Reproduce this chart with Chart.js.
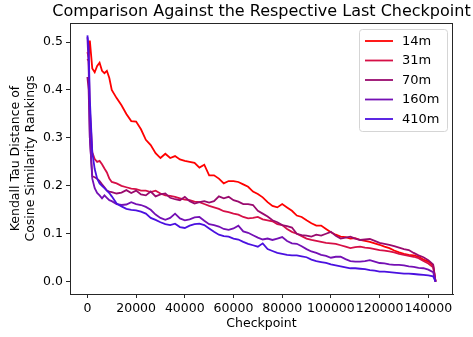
<!DOCTYPE html>
<html>
<head>
<meta charset="utf-8">
<script src="https://cdn.jsdelivr.net/npm/chart.js@4.4.1/dist/chart.umd.min.js"></script>
<style>
  html, body { margin: 0; padding: 0; background: #fff; }
  #chart { display: block; }
</style>
</head>
<body>
<canvas id="chart" width="473" height="337"></canvas>
<script>
// Kendall tau distance vs checkpoint, one line per model size

const checkpoints = [0, 500, 1000, 2000, 3000, 4000, 5000, 6000, 7000, 8000, 9000, 10000,
    12000, 14000, 16000, 18000, 20000, 22000, 24000, 26000, 28000, 30000,
    32000, 34000, 36000, 38000, 40000, 42000, 44000, 46000, 48000, 50000,
    52000, 54000, 56000, 58000, 60000, 62000, 64000, 66000, 68000, 70000,
    72000, 74000, 76000, 78000, 80000, 82000, 84000, 86000, 88000, 90000,
    92000, 94000, 96000, 98000, 100000, 102000, 104000, 106000, 108000, 110000,
    112000, 114000, 116000, 118000, 120000, 122000, 124000, 126000, 128000, 130000,
    132000, 134000, 136000, 138000, 140000, 142000, 143000];

const models = ['14m', '31m', '70m', '160m', '410m'];
const colors = ['#ff0000', '#d60f46', '#990a6e', '#7410b4', '#4a10e0'];

const dist14m = [0.479, 0.468, 0.503, 0.445, 0.437, 0.45, 0.457, 0.44, 0.435, 0.44, 0.425, 0.40,
    0.383, 0.368, 0.35, 0.335, 0.334, 0.318, 0.296, 0.285, 0.268, 0.258,
    0.267, 0.258, 0.262, 0.255, 0.252, 0.25, 0.248, 0.238, 0.244, 0.222,
    0.222, 0.215, 0.205, 0.21, 0.21, 0.208, 0.203, 0.198, 0.188, 0.183,
    0.176, 0.166, 0.158, 0.155, 0.162, 0.155, 0.148, 0.138, 0.135, 0.128,
    0.122, 0.117, 0.117, 0.11, 0.103, 0.098, 0.094, 0.093, 0.09, 0.091,
    0.087, 0.085, 0.083, 0.08, 0.077, 0.073, 0.07, 0.065, 0.061, 0.058,
    0.056, 0.055, 0.052, 0.046, 0.042, 0.034, 0.0];

const dist31m = [0.465, 0.46, 0.36, 0.27, 0.256, 0.25, 0.252, 0.245, 0.236, 0.228, 0.215, 0.208,
    0.205, 0.2, 0.197, 0.194, 0.193, 0.19, 0.19, 0.187, 0.19, 0.184,
    0.18, 0.179, 0.177, 0.174, 0.171, 0.17, 0.167, 0.166, 0.162, 0.158,
    0.155, 0.152, 0.147, 0.145, 0.142, 0.14, 0.135, 0.132, 0.133, 0.135,
    0.13, 0.128, 0.126, 0.12, 0.118, 0.11, 0.104, 0.1, 0.095, 0.09,
    0.087, 0.085, 0.083, 0.081, 0.08, 0.079, 0.076, 0.073, 0.07, 0.072,
    0.073, 0.071, 0.07, 0.068, 0.066, 0.065, 0.063, 0.061, 0.058, 0.056,
    0.054, 0.052, 0.049, 0.043, 0.038, 0.03, 0.0];

const dist70m = [0.427, 0.40, 0.30, 0.22, 0.218, 0.215, 0.21, 0.203, 0.197, 0.19, 0.188, 0.187,
    0.184, 0.186, 0.191, 0.185, 0.19, 0.182, 0.18, 0.188, 0.178, 0.182,
    0.184, 0.175, 0.172, 0.17, 0.177, 0.168, 0.163, 0.166, 0.168, 0.165,
    0.168, 0.178, 0.174, 0.177, 0.17, 0.167, 0.162, 0.162, 0.16, 0.148,
    0.142, 0.136, 0.128, 0.124, 0.118, 0.116, 0.113, 0.1, 0.097, 0.096,
    0.094, 0.098, 0.096, 0.1, 0.104, 0.096, 0.09, 0.092, 0.094, 0.09,
    0.087, 0.088, 0.089, 0.085, 0.081, 0.079, 0.077, 0.074, 0.071, 0.068,
    0.066, 0.06, 0.055, 0.051, 0.045, 0.036, 0.0];

const dist160m = [0.51, 0.45, 0.30, 0.215, 0.195, 0.185, 0.18, 0.174, 0.18, 0.175, 0.17, 0.168,
    0.162, 0.16, 0.161, 0.166, 0.162, 0.16, 0.156, 0.15, 0.14, 0.133,
    0.129, 0.133, 0.142, 0.132, 0.128, 0.13, 0.134, 0.135, 0.127, 0.12,
    0.118, 0.115, 0.11, 0.108, 0.111, 0.117, 0.105, 0.102, 0.097, 0.092,
    0.088, 0.09, 0.087, 0.09, 0.093, 0.085, 0.08, 0.079, 0.074, 0.068,
    0.063, 0.06, 0.056, 0.054, 0.05, 0.052, 0.052, 0.047, 0.043, 0.042,
    0.042, 0.043, 0.045, 0.042, 0.039, 0.038, 0.036, 0.035, 0.035, 0.034,
    0.032, 0.031, 0.029, 0.028, 0.025, 0.02, 0.0];

const dist410m = [0.514, 0.49, 0.38, 0.27, 0.235, 0.215, 0.205, 0.2, 0.195, 0.19, 0.185, 0.178,
    0.163, 0.157, 0.152, 0.15, 0.149, 0.146, 0.142, 0.133, 0.129, 0.124,
    0.12, 0.118, 0.121, 0.114, 0.112, 0.117, 0.12, 0.121, 0.118, 0.111,
    0.104, 0.098, 0.095, 0.094, 0.09, 0.088, 0.083, 0.079, 0.076, 0.073,
    0.08, 0.068, 0.064, 0.06, 0.058, 0.056, 0.055, 0.055, 0.053, 0.051,
    0.046, 0.043, 0.041, 0.039, 0.036, 0.034, 0.032, 0.03, 0.028, 0.028,
    0.027, 0.026, 0.024, 0.023, 0.021, 0.021, 0.02, 0.019, 0.018, 0.017,
    0.017, 0.016, 0.015, 0.014, 0.013, 0.011, 0.0];

const seriesValues = [dist14m, dist31m, dist70m, dist160m, dist410m];

const xTicks = [0, 20000, 40000, 60000, 80000, 100000, 120000, 140000];
const yTicks = [0.0, 0.1, 0.2, 0.3, 0.4, 0.5];

const TITLE = 'Comparison Against the Respective Last Checkpoint';
const FONT = 'DejaVu Sans';
const AXIS = '#262626';

const datasets = models.map((name, i) => ({
    label: name,
    data: checkpoints.map((c, j) => ({ x: c, y: seriesValues[i][j] })),
    borderColor: colors[i],
    backgroundColor: colors[i],
    borderWidth: 1.8,
    pointRadius: 0,
    tension: 0,
    fill: false,
    order: models.length - i, // later models drawn on top, like matplotlib
}));

// title over the plot, box around the plot + legend in the upper right corner
// (title drawn by hand: chart.js squeezes it to the plot width otherwise)
const framePlugin = {
    id: 'frame',
    afterDraw(chart) {
        const { ctx, chartArea: a } = chart;
        ctx.save();
        ctx.fillStyle = '#000';
        ctx.font = `16px "${FONT}"`;
        ctx.textAlign = 'center';
        ctx.textBaseline = 'middle';
        ctx.fillText(TITLE, (a.left + a.right) / 2, 12);

        ctx.strokeStyle = AXIS;
        ctx.lineWidth = 1;
        ctx.strokeRect(Math.round(a.left) + 0.5, Math.round(a.top) + 0.5,
            Math.round(a.right - a.left) - 1, Math.round(a.bottom - a.top));

        // legend
        const bx = a.right - 94, by = a.top + 6, bw = 88, bh = 102;
        ctx.beginPath();
        ctx.roundRect(bx + 0.5, by + 0.5, bw, bh, 3);
        ctx.fillStyle = 'rgba(255,255,255,0.8)';
        ctx.fill();
        ctx.strokeStyle = '#d5d5d5';
        ctx.stroke();
        ctx.font = `13px "${FONT}"`;
        ctx.textAlign = 'left';
        models.forEach((name, i) => {
            const y = by + 12 + i * 19.5;
            ctx.beginPath();
            ctx.moveTo(bx + 6, y);
            ctx.lineTo(bx + 34, y);
            ctx.strokeStyle = colors[i];
            ctx.lineWidth = 1.8;
            ctx.stroke();
            ctx.fillStyle = '#000';
            ctx.fillText(name, bx + 43, y + 0.5);
        });
        ctx.restore();
    }
};

new Chart(document.getElementById('chart'), {
    type: 'line',
    data: { datasets },
    options: {
        responsive: false,
        devicePixelRatio: 1,
        animation: false,
        layout: { padding: { left: 0, right: 20, top: 23, bottom: 0 } },
        plugins: {
            legend: { display: false },
            tooltip: { enabled: false },
            title: { display: false }
        },
        scales: {
            x: {
                type: 'linear',
                min: -7150,
                max: 150150,
                afterBuildTicks: axis => { axis.ticks = xTicks.map(v => ({ value: v })); },
                afterFit: axis => { axis.height = 43; },
                grid: { display: true, drawOnChartArea: false, drawTicks: true, tickLength: 4, tickColor: AXIS },
                border: { display: true, color: AXIS, width: 1 },
                ticks: {
                    color: '#000',
                    padding: 3,
                    maxRotation: 0,
                    autoSkip: false,
                    font: { family: FONT, size: 12.5 },
                    callback: v => String(v)
                },
                title: {
                    display: true,
                    text: 'Checkpoint',
                    color: '#000',
                    font: { family: FONT, size: 12.5, lineHeight: 1.2 },
                    padding: { top: 0, bottom: 6 }
                }
            },
            y: {
                type: 'linear',
                min: -0.0257,
                max: 0.5397,
                afterBuildTicks: axis => { axis.ticks = yTicks.map(v => ({ value: v })); },
                afterFit: axis => { axis.width = 70; },
                grid: { display: true, drawOnChartArea: false, drawTicks: true, tickLength: 4, tickColor: AXIS },
                border: { display: true, color: AXIS, width: 1 },
                ticks: {
                    color: '#000',
                    padding: 3,
                    autoSkip: false,
                    font: { family: FONT, size: 12.5 },
                    callback: v => Number(v).toFixed(1)
                },
                title: {
                    display: true,
                    text: ['Kendall Tau Distance of', 'Cosine Similarity Rankings'],
                    color: '#000',
                    font: { family: FONT, size: 12.5, lineHeight: 1.2 },
                    padding: { top: 8, bottom: 0 }
                }
            }
        }
    },
    plugins: [framePlugin]
});
</script>
</body>
</html>
